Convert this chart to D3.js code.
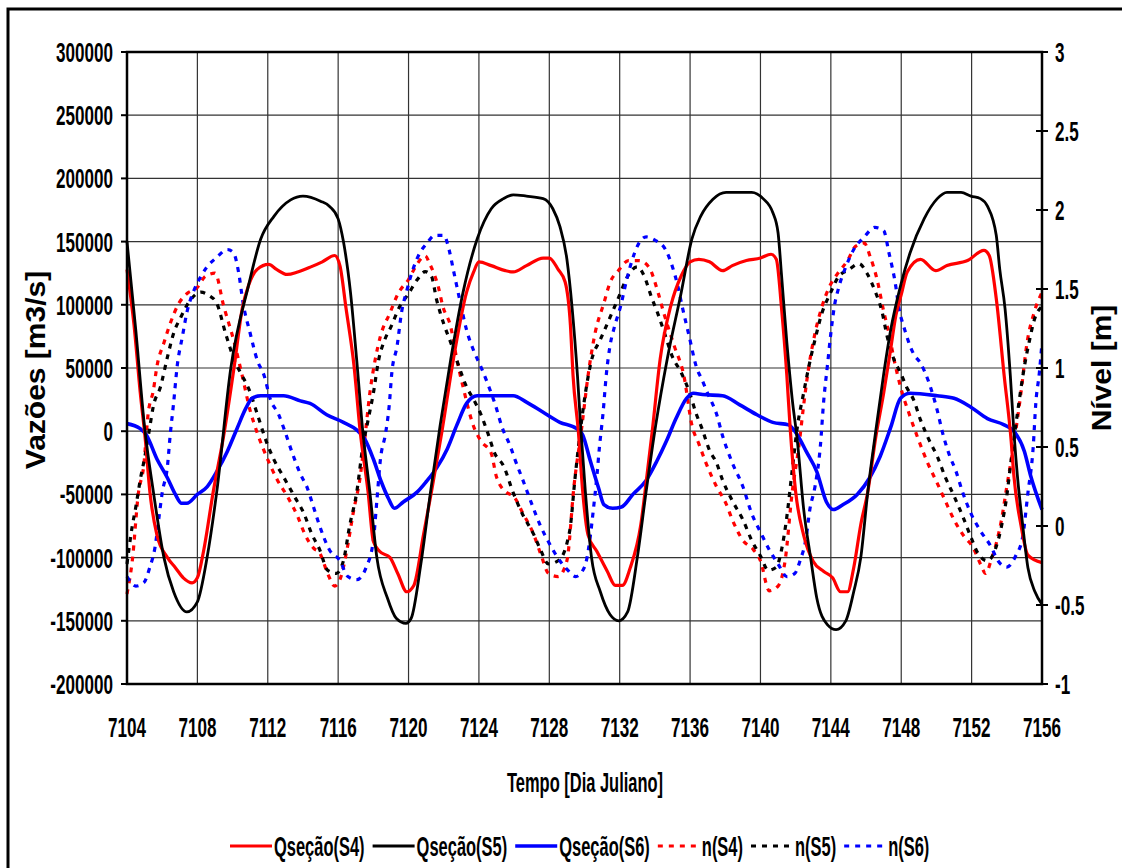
<!DOCTYPE html>
<html><head><meta charset="utf-8">
<script src="https://cdn.jsdelivr.net/npm/d3@7"></script>
<style>html,body{margin:0;padding:0;background:#fff;}svg{display:block;}</style>
</head><body><svg id="c" width="1122" height="868"></svg>
<script>
// ---------- DATA ----------
const xTicks = [7104,7108,7112,7116,7120,7124,7128,7132,7136,7140,7144,7148,7152,7156];
const yLeftTicks = [300000,250000,200000,150000,100000,50000,0,-50000,-100000,-150000,-200000];
const yRightTicks = [3,2.5,2,1.5,1,0.5,0,-0.5,-1];
const seriesNames = ["Qseção(S4)","Qseção(S5)","Qseção(S6)","n(S4)","n(S5)","n(S6)"];

// Qseção(S4) [m3/s]
const qS4 = [[7104,128000],[7104.4,84000],[7104.75,31000],[7105.05,-8000],[7105.3,-48000],[7105.7,-82000],[7106.3,-100000],[7106.75,-108000],[7107.2,-116000],[7107.7,-120000],[7108,-116000],[7108.35,-95000],[7108.9,-48000],[7109.5,-3000],[7110.1,52000],[7110.55,97000],[7110.9,115000],[7111.4,128000],[7112.05,132000],[7112.5,128000],[7113.1,124000],[7113.7,126000],[7114.45,130000],[7115.1,134000],[7115.8,139000],[7116.1,131000],[7116.45,97000],[7116.9,52000],[7117.25,0],[7117.7,-48000],[7118,-87000],[7118.35,-95000],[7118.95,-100000],[7119.4,-113000],[7119.9,-127000],[7120.3,-122000],[7120.85,-82000],[7121.3,-48000],[7121.9,0],[7122.55,57000],[7123.3,110000],[7123.7,126000],[7124,134000],[7124.7,131000],[7125.5,127000],[7125.95,126000],[7126.7,131000],[7127.65,137000],[7128,137000],[7128.5,128000],[7128.9,118000],[7129.2,84000],[7129.35,44000],[7129.65,0],[7129.9,-48000],[7130.2,-82000],[7130.7,-95000],[7131.3,-111000],[7131.75,-122000],[7132.15,-122000],[7132.6,-108000],[7133.2,-74000],[7133.55,-35000],[7133.85,0],[7134.3,57000],[7134.9,99000],[7135.5,123000],[7136,134000],[7136.5,136000],[7137.1,134000],[7137.85,127000],[7138.4,131000],[7139.2,135000],[7140,137000],[7140.6,140000],[7140.9,136000],[7141.2,97000],[7141.5,44000],[7141.7,0],[7142,-48000],[7142.45,-82000],[7143,-103000],[7143.6,-111000],[7144.1,-116000],[7144.55,-127000],[7144.95,-127000],[7145.3,-108000],[7145.7,-74000],[7146.1,-48000],[7146.55,-5000],[7147,30000],[7147.4,65000],[7147.7,92000],[7148,108000],[7148.34,126000],[7149.1,136000],[7149.96,127000],[7150.6,131000],[7151.77,135000],[7152.7,143000],[7153,139000],[7153.4,105000],[7153.85,44000],[7154.25,-8000],[7154.4,-35000],[7154.8,-74000],[7155.2,-98000],[7156,-104000]];

// Qseção(S5) [m3/s]
const qS5 = [[7104,150000],[7104.5,80000],[7105,3000],[7105.5,-48000],[7106.1,-100000],[7106.65,-127000],[7107.4,-143000],[7108,-135000],[7108.55,-100000],[7109.1,-48000],[7109.9,50000],[7110.9,115000],[7111.6,152000],[7112.35,170000],[7113.3,183000],[7114,186000],[7115,182000],[7115.5,178000],[7116,168000],[7116.3,150000],[7116.7,110000],[7117.05,57000],[7117.4,0],[7117.8,-48000],[7118.2,-100000],[7118.8,-132000],[7119.3,-148000],[7119.85,-152000],[7120.15,-148000],[7120.7,-105000],[7121.25,-48000],[7121.8,5000],[7122.4,57000],[7123.1,110000],[7123.9,152000],[7124.7,176000],[7125.4,184000],[7125.95,187000],[7126.7,186000],[7127.65,184000],[7128.2,176000],[7128.6,162000],[7129,136000],[7129.3,97000],[7129.6,44000],[7129.8,0],[7130.05,-48000],[7130.4,-100000],[7130.9,-127000],[7131.45,-145000],[7131.95,-150000],[7132.45,-143000],[7133,-100000],[7133.5,-48000],[7134.05,5000],[7134.7,57000],[7135.5,110000],[7136.1,152000],[7136.6,170000],[7137.3,183600],[7138.05,189000],[7139.5,189000],[7140.15,184000],[7140.7,173000],[7141,157000],[7141.2,123000],[7141.5,70000],[7141.8,26000],[7142.1,-8000],[7142.45,-61000],[7142.85,-100000],[7143.2,-132000],[7143.8,-153000],[7144.3,-157000],[7144.85,-150000],[7145.3,-127000],[7145.7,-100000],[7146.1,-48000],[7146.55,0],[7147,45000],[7147.4,80000],[7147.96,115000],[7148.5,141000],[7149.3,168000],[7150.05,184000],[7150.6,189000],[7151.4,189000],[7151.96,186000],[7152.5,184000],[7152.9,178000],[7153.4,155000],[7153.6,128000],[7153.9,97000],[7154.2,44000],[7154.4,0],[7154.6,-35000],[7154.9,-74000],[7155.2,-108000],[7155.6,-127000],[7156,-137000]];

// Qseção(S6) [m3/s]
const qS6 = [[7104,6000],[7104.75,2000],[7105.1,-3000],[7105.7,-22000],[7106.3,-37000],[7106.75,-50000],[7107.1,-57000],[7107.4,-57000],[7108,-50000],[7108.55,-44000],[7109.1,-32000],[7109.7,-16000],[7110.25,2000],[7110.75,18000],[7111.1,26000],[7111.6,28000],[7112.9,28000],[7113.85,24000],[7114.4,22000],[7115.35,13000],[7116.3,7000],[7117.05,1000],[7117.5,-6000],[7118,-22000],[7118.45,-40000],[7118.85,-53000],[7119.2,-61000],[7119.7,-56000],[7120.5,-48000],[7121,-40000],[7121.6,-29000],[7122.2,-14000],[7122.75,5000],[7123.3,22000],[7123.9,28000],[7124.7,28000],[7125.95,28000],[7126.7,23000],[7127.65,15000],[7128.6,7000],[7129.55,2000],[7129.9,-3000],[7130.3,-22000],[7130.8,-45000],[7131.1,-58000],[7131.6,-61000],[7132.1,-60000],[7132.75,-50000],[7133.5,-39000],[7134.1,-24000],[7134.65,-8000],[7135.2,10000],[7135.8,26000],[7136.2,30000],[7136.7,29000],[7137.85,28000],[7138.8,21000],[7139.8,13000],[7140.7,7000],[7141.6,5000],[7142.1,-3000],[7142.6,-16000],[7143.2,-32000],[7143.75,-56000],[7144.15,-62000],[7144.7,-58000],[7145.5,-50000],[7146.2,-37000],[7146.8,-20000],[7147.4,3000],[7147.96,26000],[7148.5,30000],[7150.05,28000],[7151,26000],[7151.96,19000],[7152.9,10000],[7153.85,5000],[7154.4,0],[7155,-16000],[7155.35,-35000],[7156,-62000]];

// n(S4) [m]
const nS4 = [[7104,-0.43],[7104.3,-0.22],[7104.65,0.21],[7104.95,0.38],[7105.2,0.71],[7105.5,0.86],[7105.7,1.01],[7106.1,1.16],[7106.45,1.28],[7106.95,1.41],[7107.4,1.47],[7108,1.51],[7108.45,1.58],[7109,1.6],[7109.5,1.39],[7110.1,1.16],[7110.55,0.95],[7111,0.73],[7111.4,0.59],[7112,0.42],[7112.55,0.29],[7113.1,0.19],[7113.7,0.06],[7114.1,-0.05],[7114.6,-0.14],[7114.95,-0.17],[7115.4,-0.3],[7115.8,-0.38],[7116.1,-0.34],[7116.5,-0.15],[7116.85,0.08],[7117.25,0.31],[7117.5,0.54],[7117.8,0.84],[7118.1,1.05],[7118.4,1.2],[7118.95,1.35],[7119.4,1.47],[7120,1.56],[7120.5,1.66],[7120.95,1.71],[7121.2,1.66],[7121.7,1.51],[7121.95,1.39],[7122.4,1.26],[7122.75,1.05],[7123.1,0.88],[7123.7,0.63],[7124.1,0.54],[7124.7,0.46],[7125,0.31],[7125.6,0.21],[7125.95,0.19],[7126.5,0.08],[7127.1,-0.05],[7127.55,-0.19],[7127.95,-0.3],[7128.5,-0.32],[7129,-0.22],[7129.4,0.25],[7129.85,0.63],[7130.2,0.95],[7130.6,1.22],[7131.1,1.41],[7131.45,1.54],[7131.95,1.62],[7132.5,1.68],[7133.1,1.68],[7133.65,1.64],[7134.2,1.47],[7134.5,1.35],[7135.1,1.14],[7135.65,0.95],[7136.1,0.64],[7136.5,0.52],[7136.9,0.4],[7137.5,0.25],[7138.05,0.14],[7138.4,0.04],[7139,-0.09],[7139.6,-0.15],[7140,-0.22],[7140.5,-0.41],[7141,-0.38],[7141.4,-0.22],[7141.8,0.21],[7142.2,0.52],[7142.45,0.76],[7142.75,1.01],[7143.1,1.22],[7143.5,1.39],[7143.9,1.51],[7144.4,1.6],[7144.95,1.68],[7145.4,1.77],[7145.9,1.79],[7146.25,1.7],[7146.65,1.55],[7147,1.36],[7147.3,1.22],[7147.6,1.05],[7147.96,0.88],[7148.45,0.71],[7148.9,0.57],[7149.5,0.4],[7150.05,0.27],[7150.5,0.16],[7151,0.04],[7151.6,-0.07],[7152.05,-0.13],[7152.5,-0.24],[7152.8,-0.3],[7153.1,-0.22],[7153.4,-0.11],[7153.7,0.04],[7154,0.25],[7154.4,0.52],[7154.8,0.84],[7155.15,1.16],[7155.55,1.35],[7156,1.48]];

// n(S5) [m]
const nS5 = [[7104,-0.24],[7104.3,0],[7104.5,0.12],[7104.75,0.29],[7105.05,0.46],[7105.3,0.63],[7105.5,0.76],[7105.9,0.88],[7106.3,1.07],[7106.65,1.22],[7107.05,1.32],[7107.6,1.43],[7108.2,1.48],[7108.65,1.46],[7109.1,1.41],[7109.6,1.22],[7110.1,1.05],[7110.45,0.97],[7110.95,0.86],[7111.4,0.71],[7111.9,0.54],[7112.35,0.42],[7112.9,0.31],[7113.5,0.19],[7114.05,0.08],[7114.5,-0.05],[7114.95,-0.15],[7115.4,-0.28],[7115.9,-0.3],[7116.3,-0.22],[7116.65,0],[7117.05,0.21],[7117.4,0.5],[7117.7,0.67],[7118,0.84],[7118.3,1.05],[7118.65,1.18],[7119,1.26],[7119.5,1.39],[7120,1.47],[7120.5,1.56],[7120.95,1.61],[7121.3,1.58],[7121.6,1.43],[7122,1.28],[7122.4,1.16],[7122.8,1.03],[7123.3,0.88],[7123.7,0.8],[7124.1,0.71],[7124.5,0.59],[7124.9,0.46],[7125.4,0.38],[7125.95,0.21],[7126.5,0.07],[7127.1,-0.05],[7127.5,-0.15],[7127.95,-0.24],[7128.5,-0.22],[7129,-0.11],[7129.2,0],[7129.45,0.29],[7129.75,0.59],[7130.05,0.84],[7130.4,1.05],[7130.9,1.18],[7131.45,1.32],[7131.95,1.45],[7132.45,1.58],[7133,1.64],[7133.4,1.58],[7133.8,1.45],[7134.15,1.35],[7134.55,1.22],[7135,1.07],[7135.5,0.97],[7135.95,0.85],[7136.35,0.71],[7136.7,0.61],[7137.1,0.48],[7137.5,0.4],[7137.85,0.29],[7138.4,0.16],[7139,0.04],[7139.5,-0.09],[7140,-0.19],[7140.45,-0.28],[7140.9,-0.26],[7141.2,-0.15],[7141.5,0.06],[7141.8,0.35],[7142.1,0.63],[7142.45,0.84],[7142.75,1.01],[7143.1,1.18],[7143.5,1.35],[7143.96,1.47],[7144.45,1.58],[7145,1.62],[7145.6,1.66],[7146.05,1.6],[7146.5,1.49],[7146.9,1.36],[7147.2,1.2],[7147.6,1.05],[7147.96,0.97],[7148.3,0.88],[7148.7,0.8],[7149.1,0.67],[7149.6,0.54],[7150.05,0.44],[7150.5,0.31],[7151,0.19],[7151.5,0.06],[7151.96,-0.07],[7152.4,-0.18],[7152.9,-0.22],[7153.4,-0.13],[7153.7,0],[7153.96,0.16],[7154.25,0.42],[7154.6,0.71],[7155,1.01],[7155.3,1.18],[7155.55,1.3],[7156,1.39]];

// n(S6) [m]
const nS6 = [[7104,-0.32],[7104.5,-0.38],[7104.95,-0.36],[7105.3,-0.26],[7105.6,-0.13],[7105.8,0.04],[7106,0.21],[7106.3,0.38],[7106.45,0.57],[7106.65,0.78],[7106.85,1.01],[7107.15,1.2],[7107.4,1.35],[7107.8,1.49],[7108.2,1.58],[7108.55,1.64],[7109.1,1.7],[7109.7,1.75],[7110.05,1.73],[7110.35,1.6],[7110.6,1.41],[7111,1.22],[7111.4,1.05],[7111.8,0.95],[7112.15,0.8],[7112.6,0.71],[7113,0.59],[7113.4,0.46],[7113.85,0.33],[7114.25,0.24],[7114.6,0.12],[7114.95,0],[7115.5,-0.15],[7116.1,-0.22],[7116.55,-0.32],[7117.05,-0.34],[7117.6,-0.26],[7118,-0.09],[7118.2,0.16],[7118.4,0.42],[7118.7,0.59],[7118.9,0.76],[7119.05,0.97],[7119.35,1.14],[7119.6,1.35],[7119.9,1.49],[7120.3,1.64],[7120.65,1.73],[7121.05,1.79],[7121.5,1.84],[7122,1.84],[7122.3,1.75],[7122.55,1.62],[7122.95,1.41],[7123.3,1.24],[7123.7,1.11],[7124.1,1.01],[7124.5,0.9],[7124.95,0.76],[7125.3,0.63],[7125.8,0.5],[7126.05,0.42],[7126.5,0.29],[7127,0.14],[7127.5,0],[7128,-0.11],[7128.6,-0.22],[7129.05,-0.28],[7129.5,-0.32],[7130,-0.26],[7130.3,-0.09],[7130.5,0.1],[7130.7,0.31],[7130.85,0.5],[7131.05,0.71],[7131.25,0.97],[7131.45,1.14],[7131.7,1.26],[7132.05,1.39],[7132.4,1.56],[7132.7,1.68],[7133,1.77],[7133.5,1.83],[7134,1.81],[7134.6,1.75],[7135,1.64],[7135.3,1.52],[7135.55,1.39],[7135.95,1.2],[7136.35,1.01],[7136.7,0.92],[7137,0.84],[7137.5,0.71],[7137.85,0.57],[7138.4,0.4],[7139,0.25],[7139.5,0.08],[7140.05,-0.05],[7140.5,-0.15],[7141,-0.24],[7141.5,-0.32],[7141.95,-0.3],[7142.25,-0.22],[7142.6,-0.07],[7142.8,0.1],[7143.1,0.25],[7143.4,0.5],[7143.6,0.8],[7143.8,1.01],[7144,1.22],[7144.2,1.39],[7144.45,1.51],[7144.85,1.64],[7145.3,1.75],[7145.9,1.83],[7146.5,1.89],[7147,1.87],[7147.3,1.73],[7147.7,1.51],[7147.85,1.39],[7148.15,1.26],[7148.7,1.09],[7149.1,1.03],[7149.6,0.9],[7150.05,0.73],[7150.35,0.59],[7150.7,0.46],[7151.1,0.35],[7151.5,0.21],[7151.96,0.08],[7152.5,-0.03],[7153.1,-0.13],[7153.5,-0.22],[7154,-0.26],[7154.5,-0.19],[7154.9,-0.07],[7155.2,0.21],[7155.5,0.5],[7155.65,0.78],[7155.85,0.97],[7156,1.16]];

// ---------- DRAW ----------
const svg = d3.select("#c");
const FONT = "'Liberation Sans', Arial, sans-serif";
const SX = 0.61; // horizontal compression of the original picture

const x = d3.scaleLinear().domain([7104,7156]).range([127,1042]);
const yL = d3.scaleLinear().domain([-200000,300000]).range([684,52]);
const yR = d3.scaleLinear().domain([-1,3]).range([684,52]);

// outer frame
svg.append("rect").attr("x",8).attr("y",9).attr("width",1200).attr("height",900)
  .attr("fill","none").attr("stroke","#000").attr("stroke-width",3);

function txt(xp, yp, s, size, anchor, rot, sx){
  const k = sx === undefined ? SX : sx;
  const t = svg.append("text")
    .attr("transform", `translate(${xp},${yp}) scale(${k},1)` + (rot ? ` rotate(${rot})` : ""))
    .attr("font-family", FONT).attr("font-weight","bold").attr("font-size", size)
    .attr("text-anchor", anchor).attr("fill","#000").text(s);
  return t;
}

// gridlines
const grid = svg.append("g");
yLeftTicks.forEach(v => grid.append("line").attr("x1",127).attr("x2",1042)
  .attr("y1",yL(v)).attr("y2",yL(v)).attr("stroke","#333").attr("stroke-width",1.2));
xTicks.forEach(v => grid.append("line").attr("y1",52).attr("y2",684)
  .attr("x1",x(v)).attr("x2",x(v)).attr("stroke","#333").attr("stroke-width",1.2));

// lines
const lineL = d3.line().x(d=>x(d[0])).y(d=>yL(d[1])).curve(d3.curveMonotoneX);
const lineR = d3.line().x(d=>x(d[0])).y(d=>yR(d[1])).curve(d3.curveMonotoneX);
const plot = svg.append("g");
const dash = "5,6";
const series = [
  {d:nS4, line:lineR, color:"#ff0000", w:3.2, dash:dash},
  {d:nS5, line:lineR, color:"#000000", w:3.2, dash:dash},
  {d:nS6, line:lineR, color:"#0000ff", w:3.2, dash:dash},
  {d:qS6, line:lineL, color:"#0000ff", w:3.6, dash:null},
  {d:qS4, line:lineL, color:"#ff0000", w:3.2, dash:null},
  {d:qS5, line:lineL, color:"#000000", w:2.8, dash:null}
];
series.forEach(s => {
  plot.append("path").attr("d", s.line(s.d)).attr("fill","none")
    .attr("stroke", s.color).attr("stroke-width", s.w)
    .attr("stroke-dasharray", s.dash).attr("stroke-linejoin","round");
});

// plot frame
svg.append("rect").attr("x",127).attr("y",52).attr("width",915).attr("height",632)
  .attr("fill","none").attr("stroke","#000").attr("stroke-width",2.5);

// left axis ticks + labels
yLeftTicks.forEach(v => {
  svg.append("line").attr("x1",121).attr("x2",127).attr("y1",yL(v)).attr("y2",yL(v))
    .attr("stroke","#000").attr("stroke-width",2);
  txt(113, yL(v)+10, String(v), 28, "end");
});
// right axis ticks + labels
yRightTicks.forEach(v => {
  svg.append("line").attr("x1",1036).attr("x2",1048).attr("y1",yR(v)).attr("y2",yR(v))
    .attr("stroke","#000").attr("stroke-width",2);
  txt(1055, yR(v)+10, String(v), 28, "start");
});
// x labels
xTicks.forEach(v => txt(x(v), 737, String(v), 28, "middle"));

// titles
txt(585, 792, "Tempo [Dia Juliano]", 27, "middle");
txt(45, 370, "Vazões [m3/s]", 30, "middle", -90, 0.95);
txt(1111, 368, "Nível [m]", 30, "middle", -90, 0.95);

// legend
const legendItems = [
  {name:seriesNames[0], color:"#ff0000", dash:null, w:3},
  {name:seriesNames[1], color:"#000000", dash:null, w:3},
  {name:seriesNames[2], color:"#0000ff", dash:null, w:3.5},
  {name:seriesNames[3], color:"#ff0000", dash:dash, w:3},
  {name:seriesNames[4], color:"#000000", dash:dash, w:3},
  {name:seriesNames[5], color:"#0000ff", dash:dash, w:3}
];
let lx = 230;
const ly = 846;
legendItems.forEach(it => {
  svg.append("line").attr("x1",lx).attr("x2",lx+42).attr("y1",ly).attr("y2",ly)
    .attr("stroke",it.color).attr("stroke-width",it.w).attr("stroke-dasharray",it.dash);
  const t = txt(lx+44, ly+10, it.name, 27, "start");
  const w = t.node().getComputedTextLength()*SX;
  lx += 44 + w + 8;
});
</script></body></html>
